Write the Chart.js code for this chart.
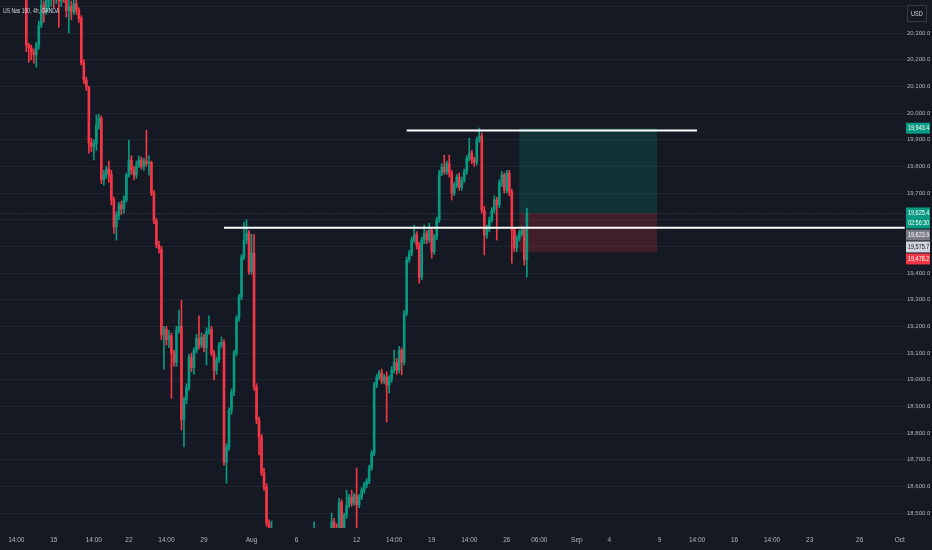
<!DOCTYPE html>
<html>
<head>
<meta charset="utf-8">
<script src="https://cdn.jsdelivr.net/npm/chart.js@4.4.0/dist/chart.umd.min.js"></script>
<style>
  html, body { margin: 0; padding: 0; background: #151924; }
  #wrap { width: 932px; height: 550px; position: relative; }
</style>
</head>
<body>
<div id="wrap"><canvas id="myChart"></canvas></div>
<script>
// US Nas 100, 4h bars (OANDA)
const openP = [
  20480,20460,20475,20465,20450,20480,20505,20490,20470,20485,
  20460,20255,20244,20229,20218,20255,20330,20405,20380,20425,
  20430,20445,20430,20440,20420,20445,20430,20385,20400,20380,
  20410,20386,20356,20188,20124,20098,19888,19875,19885,19955,
  19980,19749,19770,19790,19770,19674,19573,19617,19655,19640,
  19674,19767,19824,19786,19767,19805,19824,19799,19820,19810,
  19815,19700,19595,19505,19490,19168,19190,19150,19165,19100,
  19065,19186,19200,18849,18925,18970,19085,19045,19110,19155,
  19130,19160,19120,19180,19190,19100,19036,19075,19130,19140,
  18691,18748,18886,18954,19100,19231,19310,19460,19524,19550,
  19405,19475,18972,18849,18785,18650,18597,18462,18420,18440,
  18395,18410,18365,18320,18345,18330,18280,18315,18350,18385,
  18355,18370,18395,18380,18400,18420,18440,18400,18415,18395,
  18410,18425,18430,18467,18440,18430,18541,18436,18492,18530,
  18560,18537,18567,18530,18560,18586,18605,18620,18669,18725,
  18980,19010,19025,18995,19010,18980,19005,19036,19065,19036,
  19111,19065,19250,19449,19475,19524,19543,19505,19385,19524,
  19550,19524,19560,19480,19535,19599,19775,19797,19780,19810,
  19775,19700,19730,19760,19722,19749,19780,19831,19850,19824,
  19815,19899,19914,19636,19542,19568,19599,19636,19674,19655,
  19738,19767,19711,19775,19704,19561,19494,19530,19550,19560,
  19449
];
const highP = [
  20510,20490,20500,20485,20490,20520,20525,20510,20495,20500,
  20470,20262,20255,20240,20265,20345,20430,20420,20445,20450,
  20470,20470,20460,20460,20470,20480,20450,20425,20420,20440,
  20425,20395,20365,20200,20135,20100,19905,19900,19993,19995,
  19990,19785,19800,19820,19785,19685,19630,19665,19670,19690,
  19775,19899,19840,19800,19820,19840,19835,19830,19936,19840,
  19820,19710,19605,19520,19500,19200,19200,19185,19175,19110,
  19200,19261,19299,18935,18985,19095,19100,19120,19170,19240,
  19175,19170,19195,19240,19200,19110,19085,19140,19160,19150,
  18760,18895,18965,19110,19240,19320,19470,19591,19600,19560,
  19545,19545,18985,18860,18795,18669,18610,18475,18470,18442,
  18425,18430,18390,18360,18380,18350,18330,18360,18400,18420,
  18390,18410,18430,18410,18425,18467,18442,18430,18440,18425,
  18438,18440,18500,18480,18460,18556,18550,18500,18586,18570,
  18586,18575,18669,18570,18595,18615,18630,18680,18735,18990,
  19020,19035,19040,19020,19030,19015,19050,19111,19080,19125,
  19120,19260,19460,19485,19535,19580,19555,19515,19535,19580,
  19560,19587,19570,19545,19610,19785,19810,19842,19820,19842,
  19785,19740,19770,19775,19760,19790,19840,19906,19860,19835,
  19910,19944,19925,19650,19580,19610,19645,19690,19685,19750,
  19780,19775,19785,19785,19715,19570,19540,19560,19575,19570,
  19644
];
const lowP = [
  20450,20445,20455,20440,20440,20470,20480,20455,20450,20445,
  20230,20191,20199,20187,20172,20240,20320,20340,20370,20386,
  20400,20395,20410,20322,20400,20415,20360,20300,20350,20370,
  20370,20340,20180,20110,20085,19850,19855,19824,19860,19940,
  19735,19730,19755,19740,19655,19550,19524,19600,19620,19625,
  19665,19760,19770,19749,19755,19795,19790,19785,19800,19767,
  19690,19585,19495,19475,19150,19040,19130,19120,18930,19050,
  19050,19175,18811,18748,18910,18960,19030,19020,19100,19115,
  19120,19105,19055,19170,19090,18999,19020,19065,19120,18680,
  18612,18735,18870,18940,19090,19220,19300,19450,19510,19395,
  19395,18960,18835,18718,18640,18585,18450,18400,18390,18380,
  18360,18350,18300,18290,18320,18260,18250,18300,18330,18340,
  18320,18350,18370,18340,18370,18400,18380,18370,18385,18360,
  18390,18400,18400,18410,18400,18420,18420,18425,18480,18520,
  18525,18530,18436,18520,18550,18575,18595,18610,18660,18715,
  18970,19000,18985,18985,18841,18950,18990,19025,19020,19025,
  19018,19055,19240,19440,19465,19515,19490,19362,19375,19510,
  19510,19515,19456,19470,19525,19590,19765,19770,19770,19760,
  19674,19690,19720,19710,19710,19740,19770,19820,19810,19800,
  19805,19890,19625,19468,19530,19555,19590,19625,19524,19645,
  19725,19700,19700,19690,19437,19480,19480,19520,19540,19430,
  19385
];
const closeP = [
  20460,20475,20465,20450,20480,20505,20490,20470,20485,20460,
  20255,20244,20229,20218,20255,20330,20405,20380,20425,20430,
  20445,20430,20440,20420,20445,20430,20385,20400,20380,20410,
  20386,20356,20188,20124,20098,19888,19875,19885,19955,19980,
  19749,19770,19790,19770,19674,19573,19617,19655,19640,19674,
  19767,19824,19786,19767,19805,19824,19799,19820,19810,19815,
  19700,19595,19505,19490,19168,19190,19150,19165,19100,19065,
  19186,19200,18849,18925,18970,19085,19045,19110,19155,19130,
  19160,19120,19180,19190,19100,19036,19075,19130,19140,18691,
  18748,18886,18954,19100,19231,19310,19460,19524,19550,19405,
  19475,18972,18849,18785,18650,18597,18462,18420,18440,18395,
  18410,18365,18320,18345,18330,18280,18315,18350,18385,18355,
  18370,18395,18380,18400,18420,18440,18400,18415,18395,18410,
  18425,18430,18467,18440,18430,18541,18436,18492,18530,18560,
  18537,18567,18530,18560,18586,18605,18620,18669,18725,18980,
  19010,19025,18995,19010,18980,19005,19036,19065,19036,19111,
  19065,19250,19449,19475,19524,19543,19505,19385,19524,19550,
  19524,19560,19480,19535,19599,19775,19797,19780,19810,19775,
  19700,19730,19760,19722,19749,19780,19831,19850,19824,19815,
  19899,19914,19636,19542,19568,19599,19636,19674,19655,19738,
  19767,19711,19775,19704,19561,19494,19530,19550,19560,19449,
  19624
];

// time axis: slot count (4h bars incl. future space) and the labels shown
const slots = 362;
const tickIdx  = [6, 21, 37, 51, 66, 81, 100, 118, 142, 157, 172, 187, 202, 215, 230, 243, 263, 278, 293, 308, 323, 343, 359];
const tickText = ['14:00', '15', '14:00', '22', '14:00', '29', 'Aug', '6', '12', '14:00', '19', '14:00', '26', '06:00', 'Sep', '4', '9', '14:00', '16', '14:00', '23', '26', 'Oct'];

// drawn horizontal levels
const levelPrice = [19935, 19570];
const levelFrom  = [162, 89];
const levelTo    = [278, 361];

// long position tool
const entryPrice  = 19625.4;
const targetPrice = 19943.4;
const stopPrice   = 19478.2;
const posFrom = 207;
const posTo   = 262;
const lastPrice = 19623.9;

// price tags on the right scale
const tagPrice = [19943.4, 19625.4, 19623.9, 19575.7, 19478.2];
const tagText  = [['19,943.4'], ['19,625.4', '02:56:30'], ['19,623.9'], ['19,575.7'], ['19,478.2']];
const tagBg    = ['#089981', '#089981', '#787b86', '#d1d4dc', '#f23645'];
const tagFg    = ['#ffffff', '#ffffff', '#ffffff', '#131722', '#ffffff'];

const UP = '#089981';
const DOWN = '#f23645';
const FONT = "'Liberation Sans', Arial, sans-serif";

const labels = Array(slots).fill('');
tickIdx.forEach((k, j) => labels[k] = tickText[j]);

const wicks = [], bodies = [], colors = [];
for (let i = 0; i < slots; i++) {
    if (i < openP.length) {
        wicks.push([lowP[i], highP[i]]);
        bodies.push([openP[i], closeP[i]]);
        colors.push(closeP[i] >= openP[i] ? UP : DOWN);
    } else {
        wicks.push(null);
        bodies.push(null);
        colors.push(UP);
    }
}

function levelData(k) {
    const arr = Array(slots).fill(null);
    for (let i = levelFrom[k]; i <= levelTo[k]; i++) arr[i] = levelPrice[k];
    return arr;
}

// narrow text like the screenshot: squeeze horizontally
function narrowText(c, s, x, y, sx) {
    c.save();
    c.translate(x, y);
    c.scale(sx, 1);
    c.fillText(s, 0, 0);
    c.restore();
}

const overlay = {
    id: 'overlay',
    beforeDraw(chart) {
        const c = chart.ctx;
        c.save();
        c.fillStyle = '#151924';
        c.fillRect(0, 0, chart.width, chart.height);
        c.restore();
    },
    beforeDatasetsDraw(chart) {
        const c = chart.ctx;
        const x = chart.scales.x, y = chart.scales.y;
        const x0 = x.getPixelForValue(posFrom), x1 = x.getPixelForValue(posTo);
        const yt = y.getPixelForValue(targetPrice), ye = y.getPixelForValue(entryPrice), ys = y.getPixelForValue(stopPrice);
        c.save();
        c.fillStyle = 'rgba(8,153,129,0.2)';
        c.fillRect(x0, yt, x1 - x0, ye - yt);
        c.fillStyle = 'rgba(242,54,69,0.2)';
        c.fillRect(x0, ye, x1 - x0, ys - ye);
        // last price line
        const yl = Math.round(y.getPixelForValue(lastPrice)) + 0.5;
        c.strokeStyle = 'rgba(120,123,134,0.45)';
        c.setLineDash([1, 2]);
        c.lineWidth = 1;
        c.beginPath();
        c.moveTo(chart.chartArea.left, yl);
        c.lineTo(chart.chartArea.right, yl);
        c.stroke();
        c.restore();
    },
    afterDraw(chart) {
        const c = chart.ctx;
        const y = chart.scales.y;
        const left = chart.chartArea.right;
        const w = chart.width - left;
        c.save();
        c.font = '7px ' + FONT;
        c.textBaseline = 'middle';
        c.textAlign = 'left';
        let prevBottom = -99;
        tagPrice.forEach((v, k) => {
            const lines = tagText[k];
            const h = lines.length * 10 + 1;
            let top = y.getPixelForValue(v) - 5.5;
            if (top < prevBottom + 1) top = prevBottom + 1;
            c.fillStyle = tagBg[k];
            c.fillRect(left, top, w - 2, h);
            c.fillStyle = tagFg[k];
            lines.forEach((s, j) => narrowText(c, s, left + 2, top + 5.5 + j * 10, 0.78));
            prevBottom = top + h;
        });
        // currency box
        c.strokeStyle = '#363a45';
        c.lineWidth = 1;
        c.strokeRect(left + 1.5, 5.5, 19, 16);
        c.fillStyle = '#d1d4dc';
        narrowText(c, 'USD', left + 5, 14, 0.8);
        // symbol title
        c.fillStyle = '#d1d4dc';
        narrowText(c, 'US Nas 100, 4h, OANDA', 3, 11, 0.72);
        c.restore();
    }
};

const ctx = document.getElementById('myChart');

new Chart(ctx, {
    type: 'bar',
    data: {
        labels: labels,
        datasets: [
            {
                type: 'line',
                data: levelData(0),
                borderColor: '#ffffff',
                borderWidth: 2,
                pointRadius: 0,
                spanGaps: false,
                order: 0
            },
            {
                type: 'line',
                data: levelData(1),
                borderColor: '#ffffff',
                borderWidth: 2,
                pointRadius: 0,
                spanGaps: false,
                order: 0
            },
            {
                data: bodies,
                backgroundColor: colors,
                barThickness: 2,
                minBarLength: 1,
                grouped: false,
                order: 1
            },
            {
                data: wicks,
                backgroundColor: colors,
                barThickness: 1,
                grouped: false,
                order: 2
            }
        ]
    },
    options: {
        responsive: true,
        maintainAspectRatio: false,
        animation: false,
        layout: { padding: 0 },
        plugins: {
            legend: { display: false },
            tooltip: { enabled: false }
        },
        scales: {
            x: {
                grid: { display: false, drawTicks: false },
                border: { display: false },
                ticks: {
                    autoSkip: false,
                    maxRotation: 0,
                    minRotation: 0,
                    padding: 8,
                    color: '#b2b5be',
                    font: { size: 6.5, family: FONT }
                },
                afterFit: s => {
                    s.height = 22;
                    s.paddingLeft = 0;
                    s.paddingRight = 0;
                }
            },
            y: {
                position: 'right',
                min: 18444,
                max: 20424,
                grid: { color: 'rgba(42,46,57,0.55)', drawTicks: false },
                border: { display: false },
                ticks: {
                    stepSize: 100,
                    includeBounds: false,
                    padding: 1,
                    color: '#b2b5be',
                    font: { size: 6, family: FONT },
                    callback: v => v > 20300 ? '' : v.toLocaleString('en-US', { minimumFractionDigits: 1, maximumFractionDigits: 1 })
                },
                afterFit: s => {
                    s.width = 26;
                    s.paddingTop = 0;
                    s.paddingBottom = 0;
                }
            }
        }
    },
    plugins: [overlay]
});
</script>
</body>
</html>
